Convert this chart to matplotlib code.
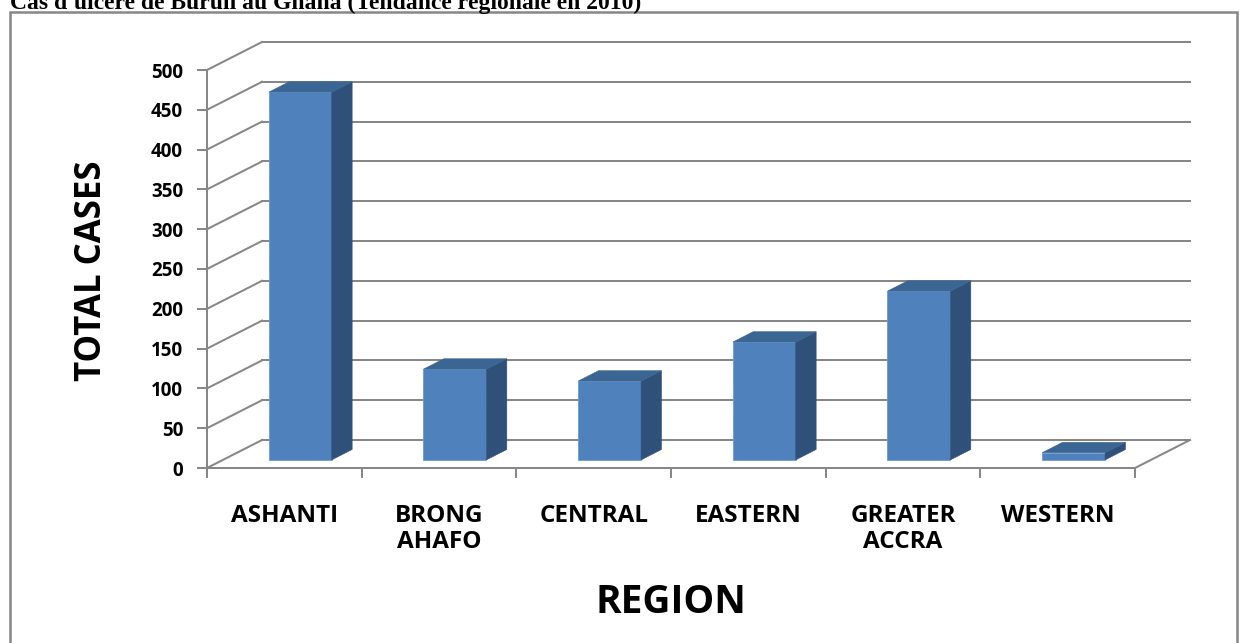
import matplotlib.pyplot as plt
from matplotlib.patches import Polygon, Rectangle

# Cas d'ulcère de Buruli par région (2010)
regions = ["ASHANTI", "BRONG\nAHAFO", "CENTRAL", "EASTERN", "GREATER\nACCRA", "WESTERN"]
total_cases = [462, 114, 99, 148, 212, 9]
y_ticks = list(range(0, 501, 50))

W, H = 1244, 643
fig = plt.figure(figsize=(W / 100, H / 100), dpi=100)

# axes = face avant du graphique 3D
ax = fig.add_axes([207 / W, (H - 468) / H, 928 / W, 398 / H])
ax.set_xlim(0, len(regions))
ax.set_ylim(0, 500)

grid_col = "#878787"
front_col = "#4f81bd"
side_col = "#2f5179"
top_col = "#3b6592"
lw_grid = 1.45

# profondeur oblique (en unités de données)
dx, dy = 0.356, 35.2
f1, f2 = 0.29, 0.66
half_w = 0.2035

n = len(regions)

# murs : lignes de grille gauche + fond
for t in y_ticks:
    ax.plot([0, dx], [t, t + dy], color=grid_col, lw=lw_grid, clip_on=False, zorder=1)
    ax.plot([dx, n + dx], [t + dy, t + dy], color=grid_col, lw=lw_grid, clip_on=False, zorder=1)
# bord droit du plancher
ax.plot([n, n + dx], [0, dy], color=grid_col, lw=lw_grid, clip_on=False, zorder=1)

# barres 3D
for i, v in enumerate(total_cases):
    c = i + 0.5
    x0 = c - half_w + f1 * dx
    x1 = c + half_w + f1 * dx
    y0 = f1 * dy
    y1 = v + f1 * dy
    ddx = (f2 - f1) * dx
    ddy = (f2 - f1) * dy
    front = Polygon([(x0, y0), (x1, y0), (x1, y1), (x0, y1)], closed=True,
                    facecolor=front_col, edgecolor="#6f9ad0", lw=0.6, clip_on=False, zorder=3)
    side = Polygon([(x1, y0), (x1 + ddx, y0 + ddy), (x1 + ddx, y1 + ddy), (x1, y1)], closed=True,
                   facecolor=side_col, edgecolor=side_col, lw=0.4, clip_on=False, zorder=3)
    top = Polygon([(x0, y1), (x1, y1), (x1 + ddx, y1 + ddy), (x0 + ddx, y1 + ddy)], closed=True,
                  facecolor=top_col, edgecolor=top_col, lw=0.4, clip_on=False, zorder=3)
    for p in (front, side, top):
        ax.add_patch(p)

# axes
for s in ("top", "right"):
    ax.spines[s].set_visible(False)
for s in ("left", "bottom"):
    ax.spines[s].set_color(grid_col)
    ax.spines[s].set_linewidth(lw_grid)
    ax.spines[s].set_zorder(2)

ax.set_yticks(y_ticks)
ax.tick_params(axis="y", direction="out", length=7.2, width=lw_grid, color=grid_col, pad=10,
               labelsize=13.5, labelcolor="black")
for lab in ax.get_yticklabels():
    lab.set_fontfamily("Open Sans")
    lab.set_fontweight("bold")

ax.set_xticks(range(n + 1))
ax.set_xticklabels([])
ax.tick_params(axis="x", which="major", direction="out", length=7.2, width=lw_grid, color=grid_col)
ax.set_xticks([i + 0.5 for i in range(n)], regions, minor=True)
ax.tick_params(axis="x", which="minor", length=0, pad=26, labelsize=17.5)
for lab in ax.get_xticklabels(minor=True):
    lab.set_fontfamily("Open Sans")
    lab.set_fontweight("bold")
    lab.set_linespacing(1.12)

ax.patch.set_visible(False)

fig.text(92 / W, 1 - 271 / H, "TOTAL CASES", rotation=90, ha="center", va="center",
         fontfamily="Open Sans", fontweight="bold", fontsize=25)
fig.text(671 / W, 1 - 613 / H, "REGION", ha="center", va="baseline",
         fontfamily="Open Sans", fontweight="bold", fontsize=28)

# titre (coupé en haut)
fig.text(10 / W, 1 - 9 / H, "Cas d'ulcère de Buruli au Ghana (Tendance régionale en 2010)",
         ha="left", va="baseline", fontfamily="Liberation Serif", fontweight="bold", fontsize=17)

# cadre
fig.add_artist(Rectangle((10 / W, -0.1), 1227 / W, (H - 12) / H + 0.1, transform=fig.transFigure,
                         fill=False, edgecolor=grid_col, lw=1.8))

fig.savefig("out.png", dpi=100)
